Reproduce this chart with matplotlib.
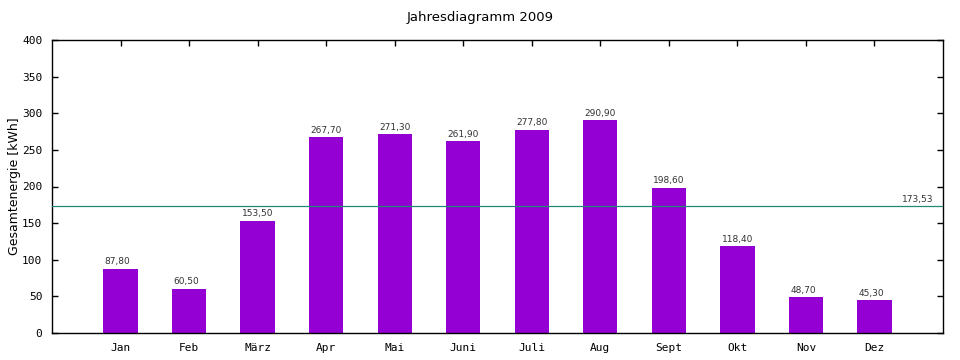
import matplotlib
matplotlib.use("Agg")
import matplotlib.pyplot as plt

# Monatswerte 2009
months = ["Jan", "Feb", "März", "Apr", "Mai", "Juni", "Juli", "Aug", "Sept", "Okt", "Nov", "Dez"]
energy = [87.8, 60.5, 153.5, 267.7, 271.3, 261.9, 277.8, 290.9, 198.6, 118.4, 48.7, 45.3]
average = 173.53
yticks = [0, 50, 100, 150, 200, 250, 300, 350, 400]


def de_fmt(v):
    return f"{v:.2f}".replace(".", ",")


fig = plt.figure(figsize=(9.6, 3.6), dpi=100)
ax = fig.add_axes([52 / 960, 27 / 360, 891 / 960, 293 / 360])

x = list(range(len(months)))
ax.bar(x, energy, width=0.5, color="#9400d3", zorder=2)
for xi, v in zip(x, energy):
    ax.text(xi - 0.23, v + 3, de_fmt(v), fontsize=6.5, color="#333333",
            ha="left", va="bottom")

ax.axhline(average, color="#208a78", linewidth=0.9, zorder=3)
ax.text(11.4, average + 3, de_fmt(average), fontsize=6.5, color="#333333",
        ha="left", va="bottom")

ax.set_xlim(-1, 12)
ax.set_ylim(0, 400)
ax.set_xticks(x)
ax.set_xticklabels(months, family="DejaVu Sans Mono", fontsize=8)
ax.set_yticks(yticks)
ax.set_yticklabels([str(t) for t in yticks], family="DejaVu Sans Mono", fontsize=8)
ax.tick_params(direction="in", length=4, width=1, top=True, right=True, pad=7)
for s in ax.spines.values():
    s.set_linewidth(1)

ax.set_ylabel("Gesamtenergie [kWh]", fontsize=9, labelpad=1)
fig.text(0.5, 1 - 18 / 360, "Jahresdiagramm 2009", ha="center", va="center", fontsize=9.5)

fig.savefig("out.png", dpi=100)
